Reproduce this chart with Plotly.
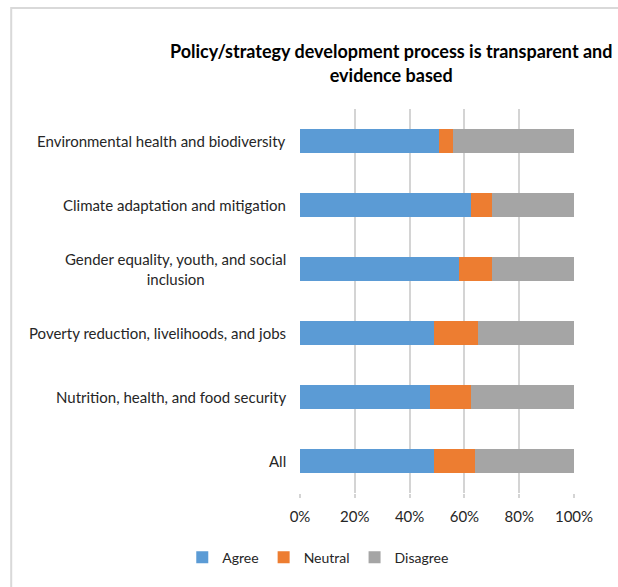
import plotly.graph_objects as go

# Survey themes, listed top to bottom
categories = [
    "Environmental health and biodiversity",
    "Climate adaptation and mitigation",
    "Gender equality, youth, and social<br>inclusion",
    "Poverty reduction, livelihoods, and jobs",
    "Nutrition, health, and food security",
    "All",
]

# Share of responses (%) per theme
agree = [50.7, 62.3, 57.9, 48.8, 47.3, 48.8]
neutral = [5.1, 7.8, 12.0, 16.2, 15.0, 15.0]
disagree = [44.2, 29.9, 30.1, 35.0, 37.7, 36.2]

series_names = ["Agree", "Neutral", "Disagree"]
series_colors = ["#5B9BD5", "#ED7D31", "#A5A5A5"]
x_ticks = [0, 20, 40, 60, 80, 100]

FONT = "Lato, Carlito, Calibri, sans-serif"

fig = go.Figure()
for name, vals, color in zip(series_names, [agree, neutral, disagree], series_colors):
    fig.add_trace(go.Bar(
        y=categories, x=[v / 100 for v in vals], name=name, orientation="h",
        marker=dict(color=color, line=dict(width=0)), width=0.39,
    ))

# Category labels, centred line by line like wrapped axis text
for cat in categories:
    fig.add_annotation(
        xref="paper", yref="y", x=-0.045, y=cat, text=cat,
        xanchor="right", yanchor="middle", align="center", showarrow=False,
        font=dict(family=FONT, size=15, color="#262626"),
    )

# Light frame around the chart area
fig.add_shape(
    type="rect", xref="paper", yref="paper",
    x0=-1.054, x1=1.3, y0=-0.3, y1=1.263,
    line=dict(color="#d9d9d9", width=2), fillcolor="rgba(0,0,0,0)", layer="below",
)

fig.update_layout(
    width=618, height=587,
    margin=dict(l=300, r=44, t=109, b=94),
    barmode="stack", bargap=0.61,
    plot_bgcolor="white", paper_bgcolor="white",
    font=dict(family=FONT, size=15, color="#262626"),
    title=dict(
        text="<b>Policy/strategy development process is transparent and<br>evidence based</b>",
        xref="container", x=0.633, xanchor="center",
        yref="container", y=0.901, yanchor="middle",
        font=dict(family=FONT, size=18, color="#000000"),
    ),
    xaxis=dict(
        range=[0, 1], tickvals=[t / 100 for t in x_ticks],
        ticktext=[f"{t}%" for t in x_ticks],
        showgrid=True, gridcolor="#d4d4d4", gridwidth=1.8,
        ticks="outside", ticklen=4, tickcolor="#d4d4d4", tickwidth=1.8,
        ticklabelstandoff=6,
        zeroline=False, showline=False,
        tickfont=dict(family=FONT, size=15, color="#262626"),
        fixedrange=True,
    ),
    yaxis=dict(
        autorange="reversed", showticklabels=False, showgrid=False,
        zeroline=False, showline=False, fixedrange=True,
    ),
    legend=dict(
        orientation="h", xref="container", x=0.515, xanchor="center",
        yref="container", y=0.05, yanchor="middle",
        font=dict(family=FONT, size=14, color="#262626"),
        itemwidth=30, traceorder="normal",
    ),
    showlegend=True,
)

fig.write_html("out.html")
